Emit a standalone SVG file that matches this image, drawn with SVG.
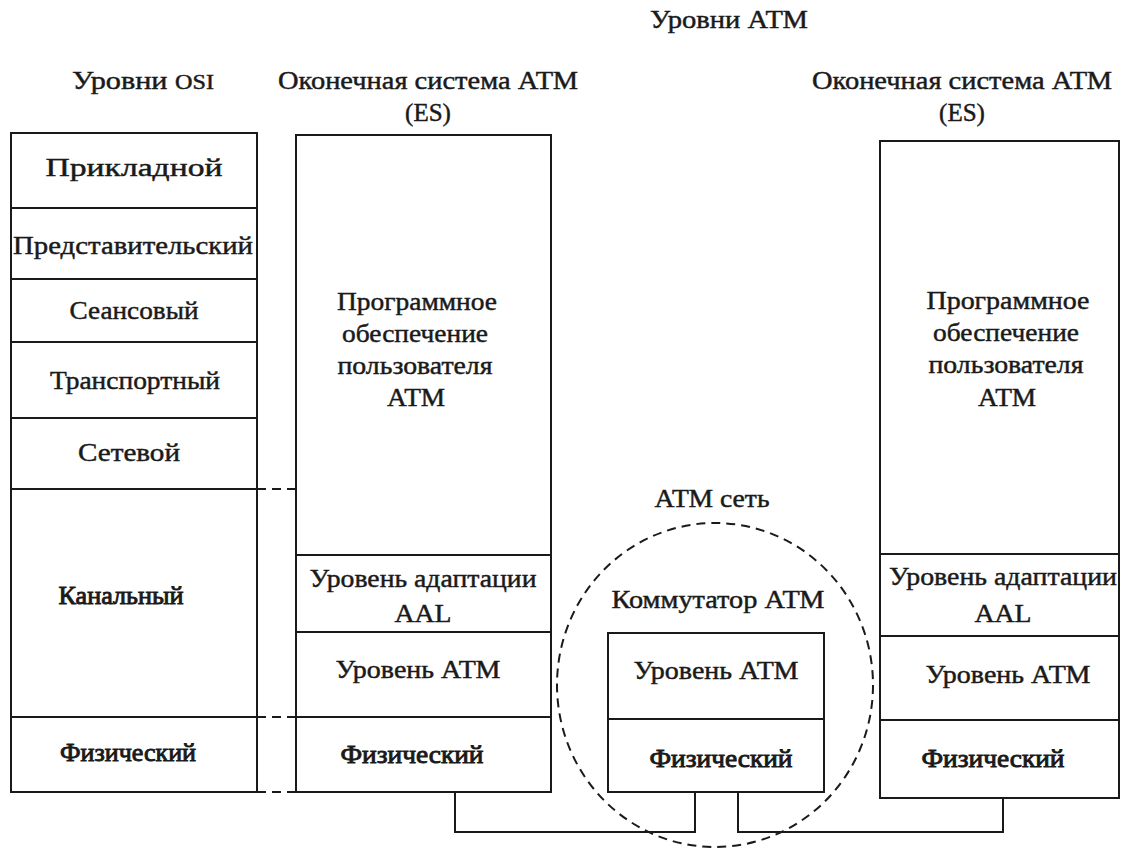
<svg xmlns="http://www.w3.org/2000/svg" width="1124" height="849" viewBox="0 0 1124 849">
<style>
text{font-family:"Liberation Serif","DejaVu Serif",serif;font-size:25px;fill:#1a1a1a;stroke:#1a1a1a;stroke-width:0.45;text-anchor:middle}
text.b{stroke-width:0.9}
.box{fill:none;stroke:#1a1a1a;stroke-width:2}
.ln{fill:none;stroke:#1a1a1a;stroke-width:2}
.dash{fill:none;stroke:#1a1a1a;stroke-width:2;stroke-dasharray:9 6}
</style>
<rect width="1124" height="849" fill="#ffffff"/>
<g id="headers">
<text x="729" y="28" textLength="158" lengthAdjust="spacingAndGlyphs">Уровни АТМ</text>
<text x="143" y="89" font-size="27" textLength="142" lengthAdjust="spacingAndGlyphs">Уровни <tspan font-size="20">OSI</tspan></text>
<text x="428" y="89" textLength="300" lengthAdjust="spacingAndGlyphs">Оконечная система АТМ</text>
<text x="428" y="121">(ES)</text>
<text x="962" y="89" textLength="300" lengthAdjust="spacingAndGlyphs">Оконечная система АТМ</text>
<text x="962" y="121">(ES)</text>
</g>
<g id="osi">
<rect class="box" x="11" y="133" width="246" height="659"/>
<path class="ln" d="M11 208H257M11 279H257M11 342H257M11 418H257M11 489H257M11 717H257"/>
<text x="134" y="176" textLength="177" lengthAdjust="spacingAndGlyphs">Прикладной</text>
<text x="133" y="254" textLength="240" lengthAdjust="spacingAndGlyphs">Представительский</text>
<text x="134" y="319" textLength="129" lengthAdjust="spacingAndGlyphs">Сеансовый</text>
<text x="135" y="389" textLength="170" lengthAdjust="spacingAndGlyphs">Транспортный</text>
<text x="129" y="461" textLength="102" lengthAdjust="spacingAndGlyphs">Сетевой</text>
<text class="b" x="121" y="604" textLength="125" lengthAdjust="spacingAndGlyphs">Канальный</text>
<text class="b" x="128" y="761" textLength="136" lengthAdjust="spacingAndGlyphs">Физический</text>
</g>
<g id="es-left">
<rect class="box" x="296" y="135" width="255" height="657"/>
<path class="ln" d="M296 555H551M296 632H551M296 717H551"/>
<text x="417" y="310" textLength="160" lengthAdjust="spacingAndGlyphs">Программное</text>
<text x="415" y="342" textLength="146" lengthAdjust="spacingAndGlyphs">обеспечение</text>
<text x="415" y="374" textLength="155" lengthAdjust="spacingAndGlyphs">пользователя</text>
<text x="416" y="406" textLength="58" lengthAdjust="spacingAndGlyphs">АТМ</text>
<text x="423" y="587" textLength="227" lengthAdjust="spacingAndGlyphs">Уровень адаптации</text>
<text x="423" y="622" textLength="57" lengthAdjust="spacingAndGlyphs">AAL</text>
<text x="418" y="678" textLength="165" lengthAdjust="spacingAndGlyphs">Уровень АТМ</text>
<text class="b" x="412" y="763" textLength="143" lengthAdjust="spacingAndGlyphs">Физический</text>
</g>
<g id="atm-network">
<ellipse class="dash" cx="715" cy="685" rx="158" ry="162"/>
<text x="712" y="507" textLength="115" lengthAdjust="spacingAndGlyphs">АТМ сеть</text>
<text x="718" y="608" textLength="213" lengthAdjust="spacingAndGlyphs">Коммутатор АТМ</text>
</g>
<g id="switch">
<rect class="box" x="608" y="633" width="216" height="159"/>
<path class="ln" d="M608 719H824"/>
<text x="716" y="679" textLength="165" lengthAdjust="spacingAndGlyphs">Уровень АТМ</text>
<text class="b" x="721" y="767" textLength="143" lengthAdjust="spacingAndGlyphs">Физический</text>
</g>
<g id="es-right">
<rect class="box" x="880" y="141" width="239" height="657"/>
<path class="ln" d="M880 554H1119M880 636H1119M880 720H1119"/>
<text x="1008" y="309" textLength="163" lengthAdjust="spacingAndGlyphs">Программное</text>
<text x="1006" y="341" textLength="146" lengthAdjust="spacingAndGlyphs">обеспечение</text>
<text x="1006" y="373" textLength="155" lengthAdjust="spacingAndGlyphs">пользователя</text>
<text x="1007" y="406" textLength="58" lengthAdjust="spacingAndGlyphs">АТМ</text>
<text x="1003" y="585" textLength="228" lengthAdjust="spacingAndGlyphs">Уровень адаптации</text>
<text x="1003" y="622" textLength="57" lengthAdjust="spacingAndGlyphs">AAL</text>
<text x="1008" y="683" textLength="165" lengthAdjust="spacingAndGlyphs">Уровень АТМ</text>
<text class="b" x="993" y="767" textLength="143" lengthAdjust="spacingAndGlyphs">Физический</text>
</g>
<g id="connectors">
<path class="dash" d="M257 489H296M257 717H296M257 792H296"/>
<path class="ln" d="M455 792V832H695V792"/>
<path class="ln" d="M738 792V832H1003V798"/>
</g>
</svg>
